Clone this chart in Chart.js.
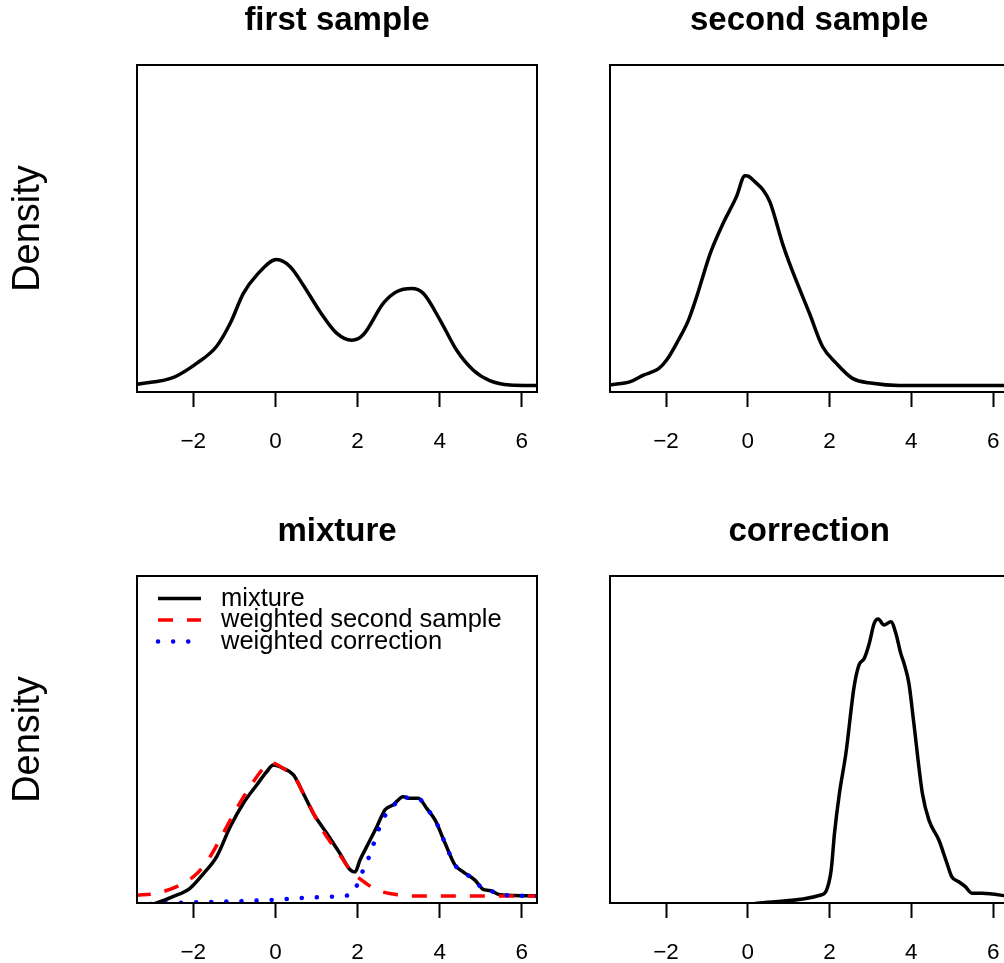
<!DOCTYPE html>
<html>
<head>
<meta charset="utf-8">
<script src="https://cdn.jsdelivr.net/npm/chart.js@4"></script>
<style>
  html, body { margin: 0; padding: 0; background: #fff; overflow: hidden; }
  body { width: 1004px; height: 963px; position: relative; }
  .panel { position: absolute; }
</style>
</head>
<body>
<div class="panel" style="left:0;top:0;width:560px;height:511px"><canvas id="firstChart"></canvas></div>
<div class="panel" style="left:502px;top:0;width:522px;height:511px"><canvas id="secondChart"></canvas></div>
<div class="panel" style="left:0;top:511px;width:560px;height:511px"><canvas id="mixtureChart"></canvas></div>
<div class="panel" style="left:502px;top:511px;width:522px;height:511px"><canvas id="correctionChart"></canvas></div>
<script>
// x range and tick labels shared by every panel
const xRange = [-3.37, 6.37];
const xTicks = [-2, 0, 2, 4, 6];
const yRange = [0, 0.6];

// first sample density
const firstX = [-3.37, -2.48, -1.91, -1.43, -1.10, -0.78, -0.45, 0.03, 0.36, 0.68, 1.09, 1.49, 1.86, 2.14, 2.63, 2.95, 3.32, 3.60, 4.01, 4.41, 4.82, 5.22, 5.71, 6.37];
const firstY = [0.014, 0.027, 0.053, 0.084, 0.126, 0.181, 0.215, 0.243, 0.230, 0.196, 0.147, 0.108, 0.095, 0.105, 0.163, 0.184, 0.190, 0.181, 0.132, 0.077, 0.040, 0.021, 0.013, 0.012];

// second sample density
const secondX = [-3.37, -2.87, -2.55, -2.18, -1.98, -1.70, -1.45, -1.25, -0.92, -0.60, -0.28, -0.07, 0.01, 0.17, 0.37, 0.54, 0.86, 1.02, 1.51, 1.83, 2.16, 2.56, 3.05, 3.70, 6.40];
const secondY = [0.013, 0.019, 0.031, 0.043, 0.059, 0.095, 0.132, 0.175, 0.254, 0.310, 0.358, 0.397, 0.396, 0.386, 0.371, 0.349, 0.270, 0.236, 0.144, 0.083, 0.053, 0.025, 0.016, 0.012, 0.012];

// mixture panel
const mixX = [-3.40, -2.89, -2.48, -2.08, -1.75, -1.43, -1.10, -0.78, -0.45, -0.21, -0.05, 0.19, 0.44, 0.68, 0.92, 1.25, 1.57, 1.82, 1.94, 2.06, 2.22, 2.47, 2.67, 2.87, 3.11, 3.28, 3.48, 3.68, 3.89, 4.13, 4.37, 4.57, 4.86, 5.06, 5.22, 5.47, 6.40];
const mixY = [-0.012, 0.0, 0.012, 0.027, 0.054, 0.085, 0.140, 0.183, 0.217, 0.241, 0.253, 0.247, 0.235, 0.201, 0.165, 0.128, 0.091, 0.061, 0.057, 0.079, 0.103, 0.140, 0.171, 0.180, 0.195, 0.192, 0.192, 0.174, 0.152, 0.110, 0.070, 0.057, 0.042, 0.025, 0.023, 0.015, 0.013];

const wSecondX = [-3.40, -2.89, -2.32, -1.91, -1.59, -1.27, -0.94, -0.62, -0.29, -0.09, 0.19, 0.48, 0.76, 1.17, 1.57, 1.86, 2.10, 2.47, 2.87, 3.36, 6.40];
const wSecondY = [0.014, 0.018, 0.033, 0.054, 0.085, 0.128, 0.174, 0.213, 0.247, 0.257, 0.247, 0.229, 0.189, 0.131, 0.088, 0.057, 0.042, 0.024, 0.0165, 0.013, 0.013];

const wCorrX = [-3.40, -2.50, -1.00, 0.00, 0.85, 1.65, 1.90, 2.06, 2.22, 2.35, 2.63, 2.87, 3.11, 3.28, 3.48, 3.68, 3.89, 4.13, 4.37, 4.57, 4.86, 5.06, 5.22, 5.47, 6.40];
const wCorrY = [-0.003, 0.0, 0.003, 0.006, 0.010, 0.013, 0.019, 0.048, 0.073, 0.100, 0.155, 0.178, 0.195, 0.192, 0.192, 0.174, 0.152, 0.110, 0.070, 0.057, 0.042, 0.025, 0.023, 0.015, 0.013];

// correction density
const corrX = [-3.40, 0.29, 1.79, 1.91, 2.04, 2.12, 2.24, 2.40, 2.60, 2.72, 2.85, 2.97, 3.09, 3.19, 3.33, 3.50, 3.62, 3.74, 3.82, 3.94, 4.06, 4.27, 4.43, 4.67, 4.87, 4.99, 5.16, 5.32, 5.48, 5.73, 6.40];
const corrY = [-0.034, 0.0, 0.0147, 0.021, 0.061, 0.128, 0.201, 0.275, 0.397, 0.437, 0.449, 0.476, 0.513, 0.521, 0.510, 0.516, 0.495, 0.458, 0.440, 0.403, 0.330, 0.201, 0.152, 0.116, 0.073, 0.048, 0.039, 0.030, 0.018, 0.018, 0.012];

Chart.defaults.font.family = '"Liberation Sans", Arial, Helvetica, sans-serif';
Chart.defaults.color = '#000';

function toPoints(xs, ys) {
    return xs.map((x, i) => ({x: x, y: ys[i]}));
}

// order: lower number is drawn on top, so later R lines sit above earlier ones
function line(label, xs, ys, color, order, dash, cap, width) {
    return {
        label: label,
        data: toPoints(xs, ys),
        borderColor: color,
        borderWidth: width || 3.5,
        borderDash: dash || [],
        borderCapStyle: cap || 'butt',
        pointRadius: 0,
        cubicInterpolationMode: 'monotone',
        fill: false,
        clip: 0,
        order: order
    };
}

// R style box around the plot region
const framePlugin = {
    id: 'frame',
    afterDatasetsDraw(chart) {
        const {ctx, chartArea: a} = chart;
        ctx.save();
        ctx.strokeStyle = '#000';
        ctx.lineWidth = 2;
        ctx.strokeRect(a.left, a.top, a.right - a.left, a.bottom - a.top);
        ctx.restore();
    }
};

// legend drawn top-left inside the plot, no box (like bty = "n")
const insideLegend = {
    id: 'insideLegend',
    afterDraw(chart) {
        const {ctx, chartArea: a} = chart;
        const rows = [22.5, 44, 65.5];
        ctx.save();
        chart.data.datasets.forEach((ds, i) => {
            const y = a.top + rows[i];
            ctx.strokeStyle = ds.borderColor;
            ctx.lineWidth = ds.borderWidth;
            ctx.lineCap = ds.borderCapStyle;
            ctx.setLineDash(ds.borderDash);
            ctx.beginPath();
            ctx.moveTo(a.left + 21, y);
            ctx.lineTo(a.left + 64, y);
            ctx.stroke();
            ctx.setLineDash([]);
            ctx.fillStyle = '#000';
            ctx.font = '25.5px "Liberation Sans", Arial, sans-serif';
            ctx.textBaseline = 'middle';
            ctx.fillText(ds.label, a.left + 84, y);
        });
        ctx.restore();
    }
};

function createPanel(canvasId, title, datasets, left, extraPlugins) {
    const ctx = document.getElementById(canvasId).getContext('2d');
    new Chart(ctx, {
        type: 'line',
        data: {datasets: datasets},
        options: {
            responsive: true,
            maintainAspectRatio: false,
            animation: false,
            events: [],
            layout: {
                padding: {left: left ? 0 : 108, right: left ? 23 : 14, top: 0, bottom: 60}
            },
            plugins: {
                legend: {display: false},
                tooltip: {enabled: false},
                title: {
                    display: true,
                    text: title,
                    fullSize: false,
                    color: '#000',
                    font: {size: 33, weight: 'bold', lineHeight: 1},
                    padding: {top: 4, bottom: 28}
                }
            },
            scales: {
                x: {
                    type: 'linear',
                    min: xRange[0],
                    max: xRange[1],
                    afterBuildTicks: scale => {
                        scale.ticks = xTicks.map(v => ({value: v}));
                    },
                    afterFit: scale => { scale.height = 59; },
                    border: {display: false},
                    grid: {
                        drawOnChartArea: false,
                        drawTicks: true,
                        tickLength: 15,
                        tickColor: '#000',
                        tickWidth: 2
                    },
                    ticks: {
                        color: '#000',
                        padding: 24,
                        maxRotation: 0,
                        font: {size: 22.5, lineHeight: 1},
                        callback: v => String(v).replace('-', '\u2212')
                    }
                },
                y: {
                    display: left,
                    min: yRange[0],
                    max: yRange[1],
                    afterFit: scale => { scale.width = left ? 137 : 0; },
                    border: {display: false},
                    grid: {display: false},
                    ticks: {display: false},
                    title: {
                        display: true,
                        text: 'Density',
                        color: '#000',
                        font: {size: 38, lineHeight: 1},
                        padding: {top: 9.5}
                    }
                }
            }
        },
        plugins: [framePlugin].concat(extraPlugins || [])
    });
}

createPanel('firstChart', 'first sample', [line('first sample', firstX, firstY, '#000000', 1)], true);
createPanel('secondChart', 'second sample', [line('second sample', secondX, secondY, '#000000', 1)], false);
createPanel('mixtureChart', 'mixture', [
    line('mixture', mixX, mixY, '#000000', 3),
    line('weighted second sample', wSecondX, wSecondY, '#FF0000', 2, [15, 14]),
    line('weighted correction', wCorrX, wCorrY, '#0000FF', 1, [0.1, 15], 'round', 4.5)
], true, [insideLegend]);
createPanel('correctionChart', 'correction', [line('correction', corrX, corrY, '#000000', 1)], false);
</script>
</body>
</html>
